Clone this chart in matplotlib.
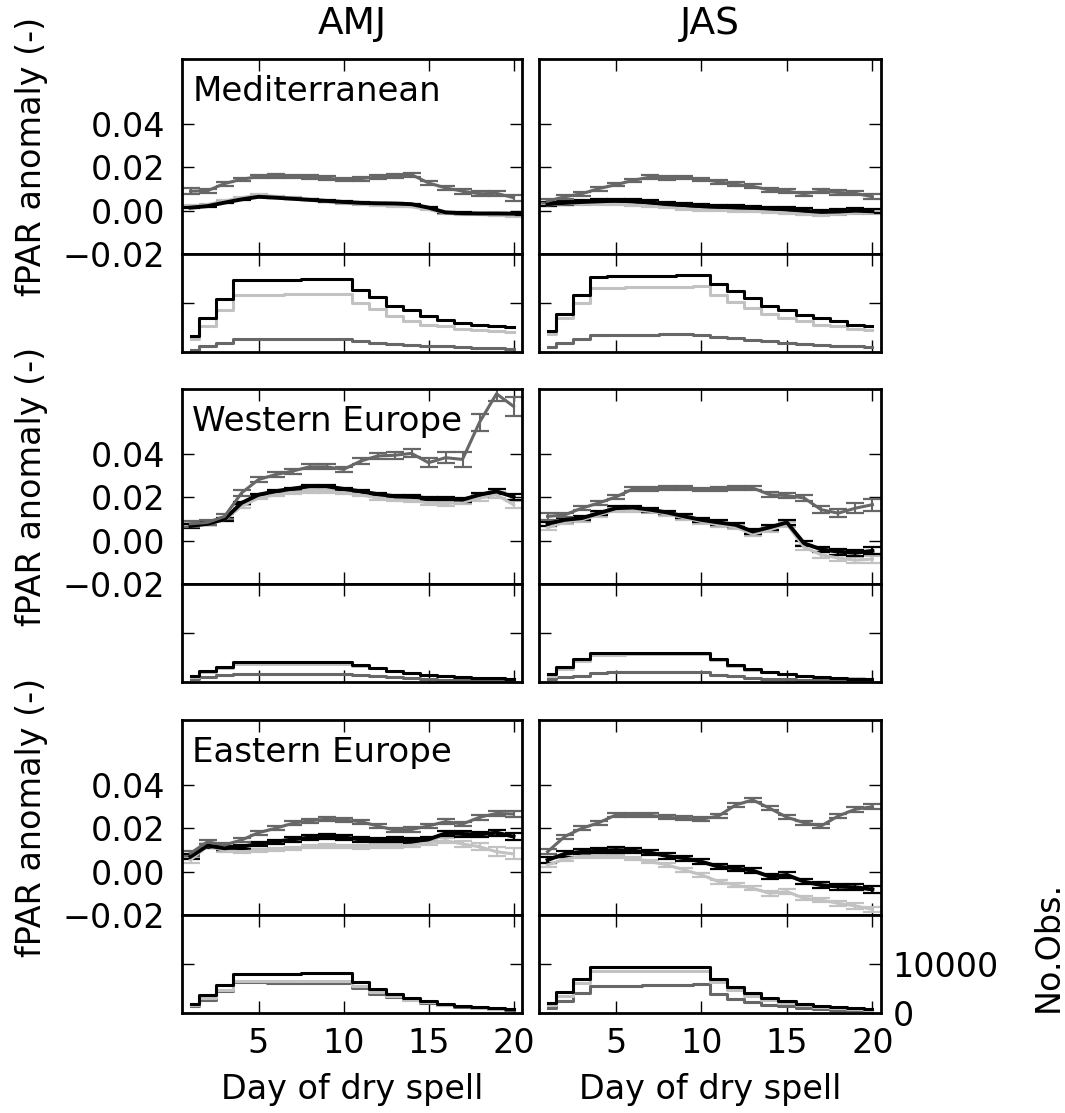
import matplotlib
matplotlib.use("Agg")
import matplotlib.pyplot as plt

# ---------------------------------------------------------------------
# data: fPAR anomaly (mean, error) and number of observations per day
# of dry spell, for three regions x two seasons, three series each
# ---------------------------------------------------------------------

days = [1, 2, 3, 4, 5, 6, 7, 8, 9, 10, 11, 12, 13, 14, 15, 16, 17, 18, 19, 20]
seasons = ["AMJ", "JAS"]
regions = ["Mediterranean", "Western Europe", "Eastern Europe"]

# Mediterranean, AMJ
med_amj_dark = [0.0090, 0.0092, 0.0125, 0.0145, 0.0157, 0.0160, 0.0158, 0.0155, 0.0150, 0.0143,
                0.0148, 0.0155, 0.0160, 0.0166, 0.0128, 0.0105, 0.0090, 0.0078, 0.0080, 0.0060]
med_amj_dark_err = [0.0013, 0.0010, 0.0009, 0.0008, 0.0008, 0.0008, 0.0008, 0.0008, 0.0008, 0.0008,
                    0.0009, 0.0009, 0.0009, 0.0010, 0.0010, 0.0011, 0.0011, 0.0012, 0.0012, 0.0014]
med_amj_black = [0.0014, 0.0021, 0.0037, 0.0052, 0.0064, 0.0060, 0.0055, 0.0050, 0.0045, 0.0040,
                 0.0036, 0.0034, 0.0033, 0.0030, 0.0014, -0.0008, -0.0012, -0.0013, -0.0013, -0.0014]
med_amj_black_err = [0.0004, 0.0003, 0.0003, 0.0003, 0.0003, 0.0003, 0.0003, 0.0003, 0.0003, 0.0003,
                     0.0003, 0.0003, 0.0003, 0.0003, 0.0003, 0.0004, 0.0004, 0.0004, 0.0004, 0.0004]
med_amj_light = [0.0020, 0.0028, 0.0045, 0.0060, 0.0072, 0.0066, 0.0058, 0.0050, 0.0043, 0.0036,
                 0.0030, 0.0025, 0.0022, 0.0018, 0.0005, -0.0012, -0.0016, -0.0018, -0.0020, -0.0022]
med_amj_light_err = [0.0004, 0.0003, 0.0003, 0.0003, 0.0003, 0.0003, 0.0003, 0.0003, 0.0003, 0.0003,
                     0.0003, 0.0003, 0.0003, 0.0003, 0.0004, 0.0004, 0.0004, 0.0004, 0.0004, 0.0005]
med_amj_n_black = [3270, 6930, 10730, 14600, 14650, 14700, 14750, 14800, 14850, 14900,
                   12730, 11130, 9400, 8470, 7400, 6470, 5930, 5470, 5270, 5130]
med_amj_n_light = [2600, 5270, 8470, 11600, 11650, 11700, 11750, 11800, 11850, 11900,
                   9930, 8730, 7270, 6400, 5600, 5270, 4730, 4470, 4270, 4070]
med_amj_n_dark = [470, 1130, 1800, 2600, 2620, 2650, 2680, 2700, 2750, 2750,
                  2270, 1930, 1730, 1470, 1270, 1130, 1000, 870, 730, 600]

# Mediterranean, JAS
med_jas_dark = [0.0044, 0.0064, 0.0078, 0.0102, 0.0120, 0.0140, 0.0155, 0.0150, 0.0152, 0.0145,
                0.0133, 0.0122, 0.0112, 0.0095, 0.0090, 0.0078, 0.0090, 0.0084, 0.0080, 0.0064]
med_jas_dark_err = [0.0010, 0.0009, 0.0009, 0.0009, 0.0008, 0.0008, 0.0008, 0.0008, 0.0008, 0.0008,
                    0.0008, 0.0008, 0.0009, 0.0009, 0.0009, 0.0009, 0.0010, 0.0010, 0.0010, 0.0011]
med_jas_black = [0.0030, 0.0036, 0.0040, 0.0043, 0.0046, 0.0044, 0.0038, 0.0030, 0.0026, 0.0021,
                 0.0018, 0.0015, 0.0013, 0.0010, 0.0006, 0.0000, -0.0006, -0.0004, 0.0000, -0.0003]
med_jas_black_err = [0.0009, 0.0009, 0.0009, 0.0009, 0.0009, 0.0009, 0.0009, 0.0009, 0.0009, 0.0009,
                     0.0009, 0.0009, 0.0009, 0.0009, 0.0010, 0.0010, 0.0010, 0.0010, 0.0010, 0.0010]
med_jas_light = [0.0027, 0.0031, 0.0032, 0.0032, 0.0030, 0.0027, 0.0022, 0.0016, 0.0010, 0.0005,
                 0.0002, 0.0000, -0.0002, -0.0005, -0.0009, -0.0014, -0.0018, -0.0016, -0.0010, -0.0010]
med_jas_light_err = [0.0005, 0.0005, 0.0005, 0.0005, 0.0005, 0.0005, 0.0005, 0.0005, 0.0005, 0.0005,
                     0.0005, 0.0005, 0.0005, 0.0005, 0.0006, 0.0006, 0.0006, 0.0006, 0.0006, 0.0006]
med_jas_n_black = [4270, 7800, 11600, 15400, 15450, 15500, 15550, 15600, 15700, 15800,
                   13930, 12470, 10930, 9400, 8470, 7530, 6930, 6270, 5600, 5270]
med_jas_n_light = [3600, 6930, 9930, 13130, 13150, 13200, 13250, 13300, 13350, 13400,
                   11600, 10270, 8930, 7800, 6930, 6270, 5600, 5270, 4730, 4470]
med_jas_n_dark = [930, 1930, 2600, 3400, 3470, 3500, 3550, 3600, 3600, 3400,
                  3130, 2800, 2530, 2200, 1930, 1670, 1470, 1270, 1130, 1000]

# Western Europe, AMJ
we_amj_dark = [0.0078, 0.0084, 0.0112, 0.0220, 0.0282, 0.0305, 0.0321, 0.0341, 0.0341, 0.0329,
               0.0367, 0.0391, 0.0394, 0.0403, 0.0360, 0.0383, 0.0375, 0.0546, 0.0678, 0.0620]
we_amj_dark_err = [0.0015, 0.0012, 0.0012, 0.0015, 0.0013, 0.0012, 0.0012, 0.0012, 0.0012, 0.0012,
                   0.0014, 0.0015, 0.0016, 0.0018, 0.0020, 0.0025, 0.0035, 0.0040, 0.0035, 0.0045]
we_amj_black = [0.0068, 0.0078, 0.0099, 0.0174, 0.0212, 0.0228, 0.0240, 0.0251, 0.0251, 0.0239,
                0.0228, 0.0215, 0.0205, 0.0205, 0.0194, 0.0194, 0.0189, 0.0212, 0.0228, 0.0202]
we_amj_black_err = [0.0008, 0.0006, 0.0006, 0.0006, 0.0005, 0.0005, 0.0005, 0.0005, 0.0005, 0.0005,
                    0.0006, 0.0006, 0.0006, 0.0007, 0.0007, 0.0008, 0.0009, 0.0010, 0.0012, 0.0014]
we_amj_light = [0.0078, 0.0080, 0.0097, 0.0158, 0.0197, 0.0212, 0.0223, 0.0228, 0.0228, 0.0220,
                0.0212, 0.0197, 0.0189, 0.0186, 0.0174, 0.0171, 0.0177, 0.0197, 0.0212, 0.0166]
we_amj_light_err = [0.0009, 0.0007, 0.0007, 0.0007, 0.0006, 0.0006, 0.0006, 0.0006, 0.0006, 0.0006,
                    0.0007, 0.0007, 0.0007, 0.0008, 0.0008, 0.0009, 0.0010, 0.0012, 0.0014, 0.0016]
we_amj_n_black = [1270, 2270, 3130, 4070, 4080, 4090, 4100, 4110, 4120, 4130,
                  3400, 2870, 2330, 1930, 1530, 1270, 1070, 870, 730, 670]
we_amj_n_light = [1000, 2000, 2900, 3700, 3700, 3710, 3720, 3720, 3730, 3730,
                  3300, 2800, 2300, 1900, 1500, 1250, 1050, 870, 730, 670]
we_amj_n_dark = [700, 1000, 1400, 1600, 1600, 1600, 1610, 1610, 1620, 1620,
                 1400, 1130, 930, 730, 600, 470, 400, 330, 270, 270]

# Western Europe, JAS
we_jas_dark = [0.0112, 0.0119, 0.0150, 0.0174, 0.0202, 0.0239, 0.0239, 0.0242, 0.0245, 0.0236,
               0.0239, 0.0242, 0.0243, 0.0212, 0.0208, 0.0197, 0.0143, 0.0127, 0.0150, 0.0166]
we_jas_dark_err = [0.0015, 0.0010, 0.0010, 0.0010, 0.0010, 0.0009, 0.0009, 0.0009, 0.0009, 0.0009,
                   0.0010, 0.0010, 0.0011, 0.0012, 0.0013, 0.0015, 0.0017, 0.0020, 0.0022, 0.0028]
we_jas_black = [0.0078, 0.0096, 0.0104, 0.0127, 0.0150, 0.0153, 0.0143, 0.0130, 0.0112, 0.0096,
                0.0084, 0.0073, 0.0042, 0.0062, 0.0084, -0.0012, -0.0040, -0.0051, -0.0056, -0.0047]
we_jas_black_err = [0.0010, 0.0009, 0.0009, 0.0009, 0.0009, 0.0009, 0.0009, 0.0009, 0.0009, 0.0009,
                    0.0010, 0.0010, 0.0010, 0.0011, 0.0011, 0.0012, 0.0013, 0.0014, 0.0015, 0.0016]
we_jas_light = [0.0060, 0.0085, 0.0095, 0.0120, 0.0140, 0.0142, 0.0135, 0.0122, 0.0105, 0.0088,
                0.0073, 0.0062, 0.0030, 0.0050, 0.0075, -0.0030, -0.0065, -0.0080, -0.0090, -0.0085]
we_jas_light_err = [0.0010, 0.0009, 0.0009, 0.0009, 0.0009, 0.0009, 0.0009, 0.0009, 0.0009, 0.0009,
                    0.0010, 0.0010, 0.0010, 0.0011, 0.0011, 0.0012, 0.0013, 0.0014, 0.0015, 0.0016]
we_jas_n_black = [1600, 3130, 4600, 5870, 5880, 5890, 5900, 5900, 5910, 5920,
                  4600, 3400, 2600, 2070, 1600, 1270, 1000, 800, 670, 600]
we_jas_n_light = [1270, 2730, 4270, 5600, 5610, 5620, 5630, 5640, 5650, 5660,
                  4400, 3270, 2530, 2000, 1600, 1270, 1070, 870, 730, 600]
we_jas_n_dark = [600, 930, 1270, 1930, 1940, 1950, 1960, 1970, 1980, 1990,
                 1530, 1130, 870, 670, 530, 400, 330, 270, 270, 200]

# Eastern Europe, AMJ
ee_amj_dark = [0.0085, 0.0138, 0.0123, 0.0146, 0.0180, 0.0200, 0.0223, 0.0235, 0.0242, 0.0238,
               0.0231, 0.0211, 0.0192, 0.0195, 0.0211, 0.0231, 0.0220, 0.0251, 0.0269, 0.0266]
ee_amj_dark_err = [0.0012, 0.0010, 0.0009, 0.0009, 0.0009, 0.0009, 0.0009, 0.0009, 0.0009, 0.0009,
                   0.0009, 0.0009, 0.0009, 0.0010, 0.0010, 0.0010, 0.0011, 0.0011, 0.0012, 0.0012]
ee_amj_black = [0.0069, 0.0120, 0.0108, 0.0115, 0.0128, 0.0138, 0.0149, 0.0157, 0.0162, 0.0158,
                0.0149, 0.0146, 0.0149, 0.0143, 0.0149, 0.0177, 0.0174, 0.0172, 0.0180, 0.0162]
ee_amj_black_err = [0.0012, 0.0010, 0.0010, 0.0010, 0.0010, 0.0010, 0.0010, 0.0010, 0.0010, 0.0010,
                    0.0011, 0.0011, 0.0011, 0.0012, 0.0012, 0.0012, 0.0013, 0.0013, 0.0014, 0.0015]
ee_amj_light = [0.0054, 0.0118, 0.0097, 0.0092, 0.0097, 0.0103, 0.0108, 0.0115, 0.0118, 0.0115,
                0.0115, 0.0118, 0.0118, 0.0122, 0.0134, 0.0143, 0.0128, 0.0115, 0.0092, 0.0082]
ee_amj_light_err = [0.0012, 0.0008, 0.0008, 0.0008, 0.0008, 0.0008, 0.0008, 0.0008, 0.0008, 0.0008,
                    0.0009, 0.0009, 0.0010, 0.0010, 0.0011, 0.0012, 0.0014, 0.0016, 0.0020, 0.0025]
ee_amj_n_black = [1900, 3740, 5780, 8030, 8040, 8050, 8060, 8070, 8080, 8100,
                  6260, 4900, 3940, 3060, 2380, 1900, 1500, 1220, 950, 820]
ee_amj_n_light = [1700, 3060, 4760, 6460, 6470, 6480, 6490, 6500, 6510, 6520,
                  5440, 4220, 3400, 2720, 2180, 1700, 1360, 1090, 880, 820]
ee_amj_n_dark = [1360, 2720, 4420, 6260, 6230, 6200, 6170, 6140, 6110, 6080,
                 5120, 3940, 3200, 2590, 2040, 1630, 1290, 1020, 820, 680]

# Eastern Europe, JAS
ee_jas_dark = [0.0092, 0.0162, 0.0200, 0.0226, 0.0262, 0.0262, 0.0260, 0.0251, 0.0246, 0.0242,
               0.0257, 0.0308, 0.0331, 0.0292, 0.0251, 0.0226, 0.0211, 0.0257, 0.0288, 0.0300]
ee_jas_dark_err = [0.0012, 0.0009, 0.0009, 0.0009, 0.0009, 0.0009, 0.0009, 0.0009, 0.0009, 0.0009,
                   0.0009, 0.0009, 0.0009, 0.0009, 0.0010, 0.0010, 0.0010, 0.0010, 0.0011, 0.0011]
ee_jas_black = [0.0054, 0.0082, 0.0092, 0.0097, 0.0100, 0.0097, 0.0088, 0.0072, 0.0062, 0.0046,
                0.0023, 0.0015, 0.0005, -0.0023, -0.0015, -0.0046, -0.0062, -0.0069, -0.0072, -0.0082]
ee_jas_black_err = [0.0012, 0.0012, 0.0012, 0.0012, 0.0012, 0.0012, 0.0012, 0.0012, 0.0012, 0.0012,
                    0.0012, 0.0012, 0.0013, 0.0013, 0.0013, 0.0013, 0.0014, 0.0014, 0.0014, 0.0015]
ee_jas_light = [0.0031, 0.0057, 0.0072, 0.0072, 0.0069, 0.0062, 0.0046, 0.0031, 0.0008, -0.0015,
                -0.0046, -0.0062, -0.0077, -0.0100, -0.0092, -0.0123, -0.0131, -0.0146, -0.0158, -0.0174]
ee_jas_light_err = [0.0010, 0.0008, 0.0008, 0.0008, 0.0008, 0.0008, 0.0008, 0.0008, 0.0008, 0.0008,
                    0.0009, 0.0009, 0.0009, 0.0010, 0.0010, 0.0010, 0.0011, 0.0011, 0.0012, 0.0012]
ee_jas_n_black = [2040, 4220, 6940, 9380, 9390, 9400, 9410, 9420, 9430, 9440,
                  6940, 5300, 4080, 3060, 2380, 1900, 1500, 1220, 950, 820]
ee_jas_n_light = [1700, 3530, 6120, 8500, 8510, 8520, 8530, 8540, 8550, 8560,
                  6260, 4760, 3530, 2720, 2040, 1630, 1290, 1020, 820, 680]
ee_jas_n_dark = [1020, 2380, 4080, 5440, 5510, 5580, 5650, 5720, 5800, 5980,
                 3940, 2860, 2180, 1700, 1360, 1020, 820, 680, 540, 400]

PANELS = {
    (0, 0): (med_amj_dark, med_amj_dark_err, med_amj_black, med_amj_black_err, med_amj_light,
             med_amj_light_err, med_amj_n_dark, med_amj_n_black, med_amj_n_light),
    (0, 1): (med_jas_dark, med_jas_dark_err, med_jas_black, med_jas_black_err, med_jas_light,
             med_jas_light_err, med_jas_n_dark, med_jas_n_black, med_jas_n_light),
    (1, 0): (we_amj_dark, we_amj_dark_err, we_amj_black, we_amj_black_err, we_amj_light,
             we_amj_light_err, we_amj_n_dark, we_amj_n_black, we_amj_n_light),
    (1, 1): (we_jas_dark, we_jas_dark_err, we_jas_black, we_jas_black_err, we_jas_light,
             we_jas_light_err, we_jas_n_dark, we_jas_n_black, we_jas_n_light),
    (2, 0): (ee_amj_dark, ee_amj_dark_err, ee_amj_black, ee_amj_black_err, ee_amj_light,
             ee_amj_light_err, ee_amj_n_dark, ee_amj_n_black, ee_amj_n_light),
    (2, 1): (ee_jas_dark, ee_jas_dark_err, ee_jas_black, ee_jas_black_err, ee_jas_light,
             ee_jas_light_err, ee_jas_n_dark, ee_jas_n_black, ee_jas_n_light),
}

DARK = "#676767"
BLACK = "#000000"
LIGHT = "#c2c2c2"
FS = 24

# ---------------------------------------------------------------------
# layout (pixel boxes on a 1065 x 1113 canvas)
# ---------------------------------------------------------------------

W, H = 1065, 1113
COL_X = [182, 539]
COL_W = [340, 342]
ROW_TOP = [59, 389, 720]
MAIN_H = 195
SMALL_H = 98


def box(x0, y0, w, h):
    return [x0 / W, 1 - (y0 + h) / H, w / W, h / H]


def style_axis(ax):
    for sp in ax.spines.values():
        sp.set_linewidth(2.0)
    ax.tick_params(direction="in", top=True, right=True, length=8.5, width=1.0,
                   labelsize=FS)
    ax.set_xlim(0.5, 20.5)
    ax.set_xticks([5, 10, 15, 20])


fig = plt.figure(figsize=(W / 100, H / 100), dpi=100)

for r in range(3):
    for c in range(2):
        (dark, dark_err, black, black_err, light, light_err,
         n_dark, n_black, n_light) = PANELS[(r, c)]

        ax = fig.add_axes(box(COL_X[c], ROW_TOP[r], COL_W[c], MAIN_H))
        ax_n = fig.add_axes(box(COL_X[c], ROW_TOP[r] + MAIN_H, COL_W[c], SMALL_H), sharex=ax)
        style_axis(ax)
        style_axis(ax_n)

        # caps are about one day wide so neighbouring caps join into a band
        for vals, err, col, lw in [(light, light_err, LIGHT, 2.2), (black, black_err, BLACK, 2.8),
                                   (dark, dark_err, DARK, 2.2)]:
            ax.errorbar(days, vals, yerr=err, color=col, lw=lw, elinewidth=1.5,
                        capsize=6.5, capthick=1.6)
        ax.set_ylim(-0.02, 0.07)
        ax.set_yticks([-0.02, 0.0, 0.02, 0.04])
        ax.tick_params(axis="y", pad=12)
        ax.tick_params(axis="x", labelbottom=False)
        if c == 0:
            ax.set_yticklabels(["\u22120.02", "0.00", "0.02", "0.04"])
            ax.text(0.03, 0.92, regions[r], transform=ax.transAxes, fontsize=24.5,
                    va="top", ha="left")
        else:
            ax.tick_params(axis="y", labelleft=False)

        for vals, col in [(n_dark, DARK), (n_light, LIGHT), (n_black, BLACK)]:
            ax_n.plot(days, vals, drawstyle="steps-mid", color=col, lw=2.2)
        ax_n.set_ylim(0, 20000)
        ax_n.set_yticks([0, 10000])
        ax_n.tick_params(axis="y", labelleft=False)
        if r == 2:
            ax_n.tick_params(axis="x", labelbottom=True, pad=10)
            fig.text((COL_X[c] + COL_W[c] / 2) / W, 1 - 1090 / H, "Day of dry spell",
                     fontsize=FS, ha="center", va="center")
            if c == 1:
                ax_n.tick_params(axis="y", labelright=True, pad=8.5)
        else:
            ax_n.tick_params(axis="x", labelbottom=False)

    fig.text(31 / W, 1 - (ROW_TOP[r] + MAIN_H / 2) / H, "fPAR anomaly (-)",
             rotation=90, fontsize=FS, ha="center", va="center")

for c, season in enumerate(seasons):
    fig.text((COL_X[c] + COL_W[c] / 2) / W, 1 - 24 / H, season, fontsize=27,
             ha="center", va="center")

fig.text(1048 / W, 1 - 946 / H, "No.Obs.", rotation=90, fontsize=FS,
         ha="center", va="center")

fig.savefig("out.png", dpi=100)
